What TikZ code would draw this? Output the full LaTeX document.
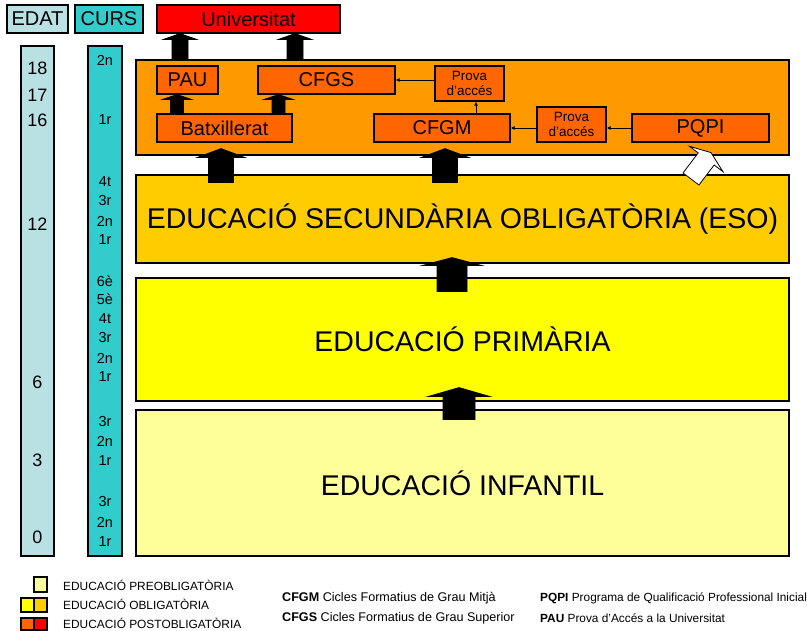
\documentclass[tikz,border=0pt]{standalone}
\usepackage{fontspec}
\setmainfont{Liberation Sans}
\usetikzlibrary{calc,arrows.meta}
\definecolor{edatc}{RGB}{185,225,228}
\definecolor{cursc}{RGB}{51,204,204}
\definecolor{univc}{RGB}{255,0,0}
\definecolor{postc}{RGB}{255,153,0}
\definecolor{innerc}{RGB}{255,102,0}
\definecolor{esoc}{RGB}{255,204,0}
\definecolor{primc}{RGB}{255,255,0}
\definecolor{infc}{RGB}{255,255,153}
\newcommand\barrow[6]{%
  \coordinate (baB) at ($(#3)!#6!(#2)$);
  \filldraw[fill=#1,draw=black,line width=0.8pt,line join=miter]
    ($(#2)!#4!90:(#3)$) -- ($(baB)!#4!90:(#3)$) -- ($(baB)!#5!90:(#3)$) -- (#3)
    -- ($(baB)!#5!-90:(#3)$) -- ($(baB)!#4!-90:(#3)$) -- ($(#2)!#4!-90:(#3)$) -- cycle;}
\tikzset{
  box/.style={draw=black,line width=1.2pt,inner sep=0pt,align=center},
  hdr/.style={box,minimum height=28pt,font=\fontsize{20}{20}\selectfont},
  inbox/.style={box,fill=innerc,minimum height=28pt,font=\fontsize{20}{20}\selectfont},
  prova/.style={box,fill=innerc,minimum width=69pt,minimum height=35pt,font=\fontsize{13.5}{15.5}\selectfont},
  level/.style={box,minimum width=653pt,font=\fontsize{28.5}{30}\selectfont},
  age/.style={inner sep=0pt,font=\fontsize{18}{18}\selectfont},
  course/.style={inner sep=0pt,font=\fontsize{14.5}{14.5}\selectfont},
  thinarrow/.style={line width=0.8pt,-{Latex[length=4pt,width=4pt]}},
  legend/.style={anchor=west,inner sep=0pt,font=\fontsize{11.9}{12}\selectfont},
  legendb/.style={anchor=west,inner sep=0pt,font=\fontsize{12.6}{13}\selectfont},
  legendc/.style={anchor=west,inner sep=0pt,font=\fontsize{11.85}{12}\selectfont},
  legsq/.style={draw=black,line width=1.2pt}
}
\begin{document}
\begin{tikzpicture}[x=1pt,y=-1pt]
\useasboundingbox (0,0) rectangle (807,631);
% headers
\node[hdr,fill=edatc,minimum width=61pt] (edat) at (37.5,19) {EDAT};
\node[hdr,fill=cursc,minimum width=68pt] (curs) at (109,19) {CURS};
\node[hdr,fill=univc,minimum width=183pt] (univ) at (248.5,19) {Universitat};
% columns
\node[box,fill=edatc,minimum width=33pt,minimum height=510pt] (edatcol) at (37.5,301) {};
\node[box,fill=cursc,minimum width=34pt,minimum height=510pt] (curscol) at (105,301) {};
\foreach \t/\y in {18/68,17/95,16/120,12/224,6/382,3/460,0/537}
  \node[age] (age\t) at (37.5,\y) {\t};
\foreach \t/\y [count=\i] in {2n/60,1r/120,4t/182,3r/201,2n/221,1r/240,6è/281,5è/299,4t/319,3r/338,2n/358,1r/377,3r/422,2n/441,1r/461,3r/502,2n/522,1r/542}
  \node[course] (crs\i) at (105,\y) {\t};
% levels
\node[level,fill=postc,minimum height=95pt] (post) at (462.5,107.5) {};
\node[level,fill=esoc,minimum height=88pt] (eso) at (462.5,219) {EDUCACIÓ SECUNDÀRIA OBLIGATÒRIA (ESO)};
\node[level,fill=primc,minimum height=123pt] (prim) at (462.5,339.5) {EDUCACIÓ PRIMÀRIA};
\node[level,fill=infc,minimum height=146pt] (inf) at (462.5,483) {EDUCACIÓ INFANTIL};
% inner boxes
\node[inbox,minimum width=61pt] (pau) at (187.5,80) {PAU};
\node[inbox,minimum width=137pt] (cfgs) at (326.5,80) {CFGS};
\node[prova] (prova1) at (469.5,83.5) {Prova\\d’accés};
\node[inbox,minimum width=135pt] (batx) at (224.5,128) {Batxillerat};
\node[inbox,minimum width=136pt] (cfgm) at (442,128) {CFGM};
\node[prova] (prova2) at (571.5,124.5) {Prova\\d’accés};
\node[inbox,minimum width=137pt] (pqpi) at (700.5,128) {PQPI};
% thin arrows
\coordinate (c1) at (476,0);
\draw[thinarrow] (c1 |- cfgm.north) -- (c1 |- prova1.south);
\draw[thinarrow] (prova1.west |- cfgs.east) -- (cfgs.east);
\draw[thinarrow] (prova2.west |- cfgm.east) -- (cfgm.east);
\draw[thinarrow] (pqpi.west) -- (prova2.east |- pqpi.west);
% block arrows
\coordinate (x1) at (180,0);
\coordinate (x2) at (295,0);
\coordinate (x3) at (177,0);
\coordinate (x4) at (278.5,0);
\coordinate (x5) at (221,0);
\coordinate (x6) at (445,0);
\coordinate (x7) at (452,0);
\coordinate (x8) at (459,0);
\coordinate (t1) at (x1 |- post.north); \coordinate (h1) at (x1 |- univ.south);
\coordinate (t2) at (x2 |- post.north); \coordinate (h2) at (x2 |- univ.south);
\coordinate (t3) at (x3 |- batx.north); \coordinate (h3) at (x3 |- pau.south);
\coordinate (t4) at (x4 |- batx.north); \coordinate (h4) at (x4 |- cfgs.south);
\coordinate (t5) at ($(x5 |- eso.north)+(0,8)$); \coordinate (h5) at ($(x5 |- batx.south)+(0,6)$);
\coordinate (t6) at ($(x6 |- eso.north)+(0,8)$); \coordinate (h6) at ($(x6 |- cfgm.south)+(0,6)$);
\coordinate (t7) at ($(x7 |- prim.north)+(0,14)$); \coordinate (h7) at ($(x7 |- eso.south)+(0,-6)$);
\coordinate (t8) at ($(x8 |- inf.north)+(0,10)$); \coordinate (h8) at ($(x8 |- prim.south)+(0,-14)$);
\coordinate (t9) at (691,179); \coordinate (h9) at ($(pqpi.south)+(10.5,10)$);
\barrow{black}{t1}{h1}{8pt}{17pt}{6pt}
\barrow{black}{t2}{h2}{8pt}{17pt}{6pt}
\barrow{black}{t3}{h3}{6.5pt}{15pt}{5pt}
\barrow{black}{t4}{h4}{6.5pt}{15pt}{5pt}
\barrow{black}{t5}{h5}{12.5pt}{24pt}{9pt}
\barrow{black}{t6}{h6}{12.5pt}{24pt}{9pt}
\barrow{black}{t7}{h7}{15pt}{30pt}{8pt}
\barrow{black}{t8}{h8}{16pt}{31pt}{9pt}
\barrow{white}{t9}{h9}{10pt}{21pt}{8pt}
% legend
\draw[legsq,fill=infc] (34,577) rectangle (47,592);
\draw[legsq,fill=primc] (21,598) rectangle (34,612);
\draw[legsq,fill=esoc] (34,598) rectangle (47,612);
\draw[legsq,fill=innerc] (21,618) rectangle (34,630);
\draw[legsq,fill=univc] (34,618) rectangle (47,630);
\node[legend] (l1) at (63,585) {EDUCACIÓ PREOBLIGATÒRIA};
\node[legend] (l2) at (63,604) {EDUCACIÓ OBLIGATÒRIA};
\node[legend] (l3) at (63,623) {EDUCACIÓ POSTOBLIGATÒRIA};
\node[legendb] (l4) at (282,598) {\textbf{CFGM} Cicles Formatius de Grau Mitjà};
\node[legendb] (l5) at (282,618) {\textbf{CFGS} Cicles Formatius de Grau Superior};
\node[legendc] (l6) at (540,598) {\textbf{PQPI} Programa de Qualificació Professional Inicial};
\node[legendc] (l7) at (540,618) {\textbf{PAU} Prova d’Accés a la Universitat};
\end{tikzpicture}
\end{document}
